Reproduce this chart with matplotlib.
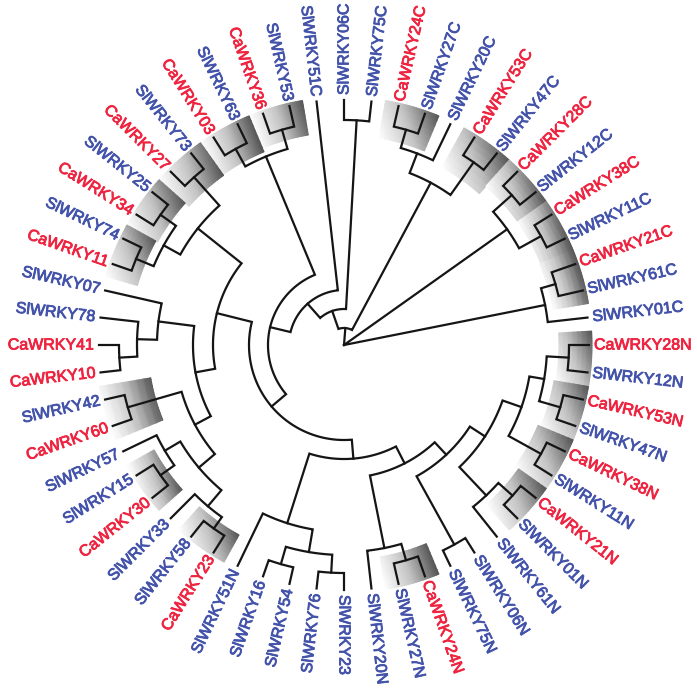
import numpy as np
import matplotlib
matplotlib.use("Agg")
import matplotlib.pyplot as plt
import matplotlib.patheffects as pe
from matplotlib.colors import LinearSegmentedColormap

# ---------------- data ----------------
leaves = ["SlWRKY06C", "SlWRKY75C", "CaWRKY24C", "SlWRKY27C", "SlWRKY20C", "CaWRKY53C",
          "SlWRKY47C", "CaWRKY28C", "SlWRKY12C", "CaWRKY38C", "SlWRKY11C", "CaWRKY21C",
          "SlWRKY61C", "SlWRKY01C",
          "CaWRKY28N", "SlWRKY12N", "CaWRKY53N", "SlWRKY47N", "CaWRKY38N", "SlWRKY11N",
          "CaWRKY21N", "SlWRKY01N", "SlWRKY61N", "SlWRKY06N", "SlWRKY75N", "CaWRKY24N",
          "SlWRKY27N", "SlWRKY20N",
          "SlWRKY23", "SlWRKY76", "SlWRKY54", "SlWRKY16", "SlWRKY51N", "CaWRKY23",
          "SlWRKY58", "SlWRKY33", "CaWRKY30", "SlWRKY15", "SlWRKY57", "CaWRKY60",
          "SlWRKY42", "CaWRKY10", "CaWRKY41", "SlWRKY78", "SlWRKY07",
          "CaWRKY11", "SlWRKY74", "CaWRKY34", "SlWRKY25", "CaWRKY27", "SlWRKY73",
          "CaWRKY03", "SlWRKY63", "CaWRKY36", "SlWRKY53", "SlWRKY51C"]
first_wrapped = 14          # leaves from here on continue counter-clockwise past 360 deg

# internal nodes: name -> (children, node depth)
nodes = {
    "root": (["T", "X2", "X1"], 0),
    "T": (["S", "N3"], 17),
    "S": (["c0675", "P"], 36),
    "c0675": (["SlWRKY06C", "SlWRKY75C"], 225),
    "N3": (["N2", "c5347"], 184),
    "N2": (["c2427", "SlWRKY20C"], 205),
    "c2427": (["CaWRKY24C", "SlWRKY27C"], 224),
    "c5347": (["CaWRKY53C", "SlWRKY47C"], 224),
    "X2": (["c2812", "c3811"], 200),
    "c2812": (["CaWRKY28C", "SlWRKY12C"], 225),
    "c3811": (["CaWRKY38C", "SlWRKY11C"], 225),
    "X1": (["c2161", "SlWRKY01C"], 205),
    "c2161": (["CaWRKY21C", "SlWRKY61C"], 220),
    "P": (["SlWRKY51C", "Q"], 55),
    "Q": (["K1", "R"], 76),
    "K1": (["k5336", "k6303"], 204),
    "k5336": (["SlWRKY53", "CaWRKY36"], 224),
    "k6303": (["SlWRKY63", "CaWRKY03"], 224),
    "R": (["U", "V"], 95),
    "U": (["H", "G"], 131),
    "H": (["H1", "h2773"], 187),
    "H1": (["h1174", "h3425"], 206),
    "h1174": (["CaWRKY11", "SlWRKY74"], 225),
    "h3425": (["CaWRKY34", "SlWRKY25"], 225),
    "h2773": (["CaWRKY27", "SlWRKY73"], 225),
    "G": (["G1", "G2"], 151),
    "G1": (["SlWRKY07", "g78"], 187),
    "g78": (["SlWRKY78", "g4110"], 207),
    "g4110": (["CaWRKY41", "CaWRKY10"], 225),
    "G2": (["g4260", "G2b"], 169),
    "g4260": (["SlWRKY42", "CaWRKY60"], 225),
    "G2b": (["g57", "g33"], 190),
    "g57": (["SlWRKY57", "g1530"], 208),
    "g1530": (["SlWRKY15", "CaWRKY30"], 225),
    "g33": (["SlWRKY33", "g5823"], 211),
    "g5823": (["SlWRKY58", "CaWRKY23"], 225),
    "V": (["W", "X"], 114),
    "W": (["SlWRKY51N", "W2"], 187),
    "W2": (["w1654", "w7623"], 210),
    "w1654": (["SlWRKY16", "SlWRKY54"], 228),
    "w7623": (["SlWRKY76", "SlWRKY23"], 228),
    "X": (["Y1", "Z"], 133),
    "Y1": (["SlWRKY20N", "y2724"], 207),
    "y2724": (["SlWRKY27N", "CaWRKY24N"], 224),
    "Z": (["z0675", "Z2"], 150),
    "z0675": (["SlWRKY06N", "SlWRKY75N"], 228),
    "Z2": (["M1", "M2"], 168),
    "M1": (["SlWRKY61N", "m2101"], 207),
    "m2101": (["CaWRKY21N", "SlWRKY01N"], 226),
    "M2": (["M2a", "m3811"], 188),
    "M2a": (["m2812", "m5347"], 203),
    "m2812": (["CaWRKY28N", "SlWRKY12N"], 225),
    "m5347": (["CaWRKY53N", "SlWRKY47N"], 225),
    "m3811": (["CaWRKY38N", "SlWRKY11N"], 225),
}

# highlighted ortholog pairs: (leaf a, leaf b, inner depth of the shaded block)
boxes = [("SlWRKY53", "CaWRKY36", 213), ("SlWRKY63", "CaWRKY03", 209),
         ("CaWRKY27", "SlWRKY73", 208), ("CaWRKY34", "SlWRKY25", 213),
         ("CaWRKY11", "SlWRKY74", 215), ("SlWRKY42", "CaWRKY60", 196),
         ("SlWRKY15", "CaWRKY30", 217), ("SlWRKY58", "CaWRKY23", 217),
         ("SlWRKY27N", "CaWRKY24N", 215), ("CaWRKY28N", "SlWRKY12N", 215),
         ("CaWRKY53N", "SlWRKY47N", 213), ("CaWRKY38N", "SlWRKY11N", 210),
         ("CaWRKY21N", "SlWRKY01N", 214), ("CaWRKY24C", "SlWRKY27C", 210),
         ("CaWRKY53C", "SlWRKY47C", 203), ("CaWRKY28C", "SlWRKY12C", 213),
         ("CaWRKY38C", "SlWRKY11C", 213), ("CaWRKY21C", "SlWRKY61C", 212)]

leaf_r = 245
label_r = 250
box_r_out = 248
species_colors = {"Sl": "#4353aa", "Ca": "#ee2440"}

# ---------------- layout ----------------
step = 360.0 / len(leaves)
angle, radius = {}, {}
for i, name in enumerate(leaves):
    a = 90.0 - step * i
    if i >= first_wrapped:
        a += 360.0
    angle[name] = a
    radius[name] = leaf_r


def resolve(n):
    if n in angle:
        return angle[n]
    ch, r = nodes[n]
    angs = [resolve(c) for c in ch]
    angle[n] = (min(angs) + max(angs)) / 2.0
    radius[n] = r
    return angle[n]


resolve("root")

fig = plt.figure(figsize=(6.97, 6.92), dpi=100)
cx, cy, R = 344, 345, 345
ax = fig.add_axes([(cx - R) / 697, (692 - cy - R) / 692, 2 * R / 697, 2 * R / 692],
                  projection="polar")
ax.set_ylim(0, R)
ax.set_axis_off()

# shaded blocks
cmap = LinearSegmentedColormap.from_list("hl", ["#ffffff", "#c4c4c4", "#555555"])
phi = np.deg2rad(20)
for a, b, rin in boxes:
    c = (angle[a] + angle[b]) / 2.0
    th = np.deg2rad(np.linspace(c - step, c + step, 24))
    rr = np.linspace(rin, box_r_out, 8)
    TH, RR = np.meshgrid(th, rr)
    P = RR * np.cos(TH) * np.cos(phi) + RR * np.sin(TH) * np.sin(phi)
    Vv = (P - P.min()) / (P.max() - P.min())
    ax.pcolormesh(TH, RR, Vv, shading="gouraud", cmap=cmap, vmin=0, vmax=1,
                  zorder=1, antialiased=True)

# branches
lw = 1.6
for n, (ch, r) in nodes.items():
    if r == 0:
        for c in ch:
            t = np.deg2rad(angle[c])
            ax.plot([t, t], [0, radius[c]], color="#151515", lw=lw, zorder=2)
        continue
    order = sorted(ch, key=lambda c: angle[c])
    c1, c2 = order[0], order[-1]
    arc = np.deg2rad(np.linspace(angle[c1], angle[c2], 80))
    ts = np.concatenate([[np.deg2rad(angle[c1])], arc, [np.deg2rad(angle[c2])]])
    rs = np.concatenate([[radius[c1]], np.full(arc.size, r), [radius[c2]]])
    ax.plot(ts, rs, color="#151515", lw=lw, zorder=2, solid_joinstyle="miter")

# labels
for name in leaves:
    a = angle[name] % 360
    t = np.deg2rad(angle[name])
    if 90 < a < 270:
        rot, ha = a - 180, "right"
    else:
        rot, ha = (a if a <= 90 else a - 360), "left"
    col = species_colors[name[:2]]
    ax.text(t, label_r, name, rotation=rot, rotation_mode="anchor", ha=ha, va="center",
            color=col, fontsize=11.5, family="Liberation Sans", zorder=3,
            path_effects=[pe.withStroke(linewidth=0.6, foreground=col)])

fig.savefig("out.png", dpi=100)
